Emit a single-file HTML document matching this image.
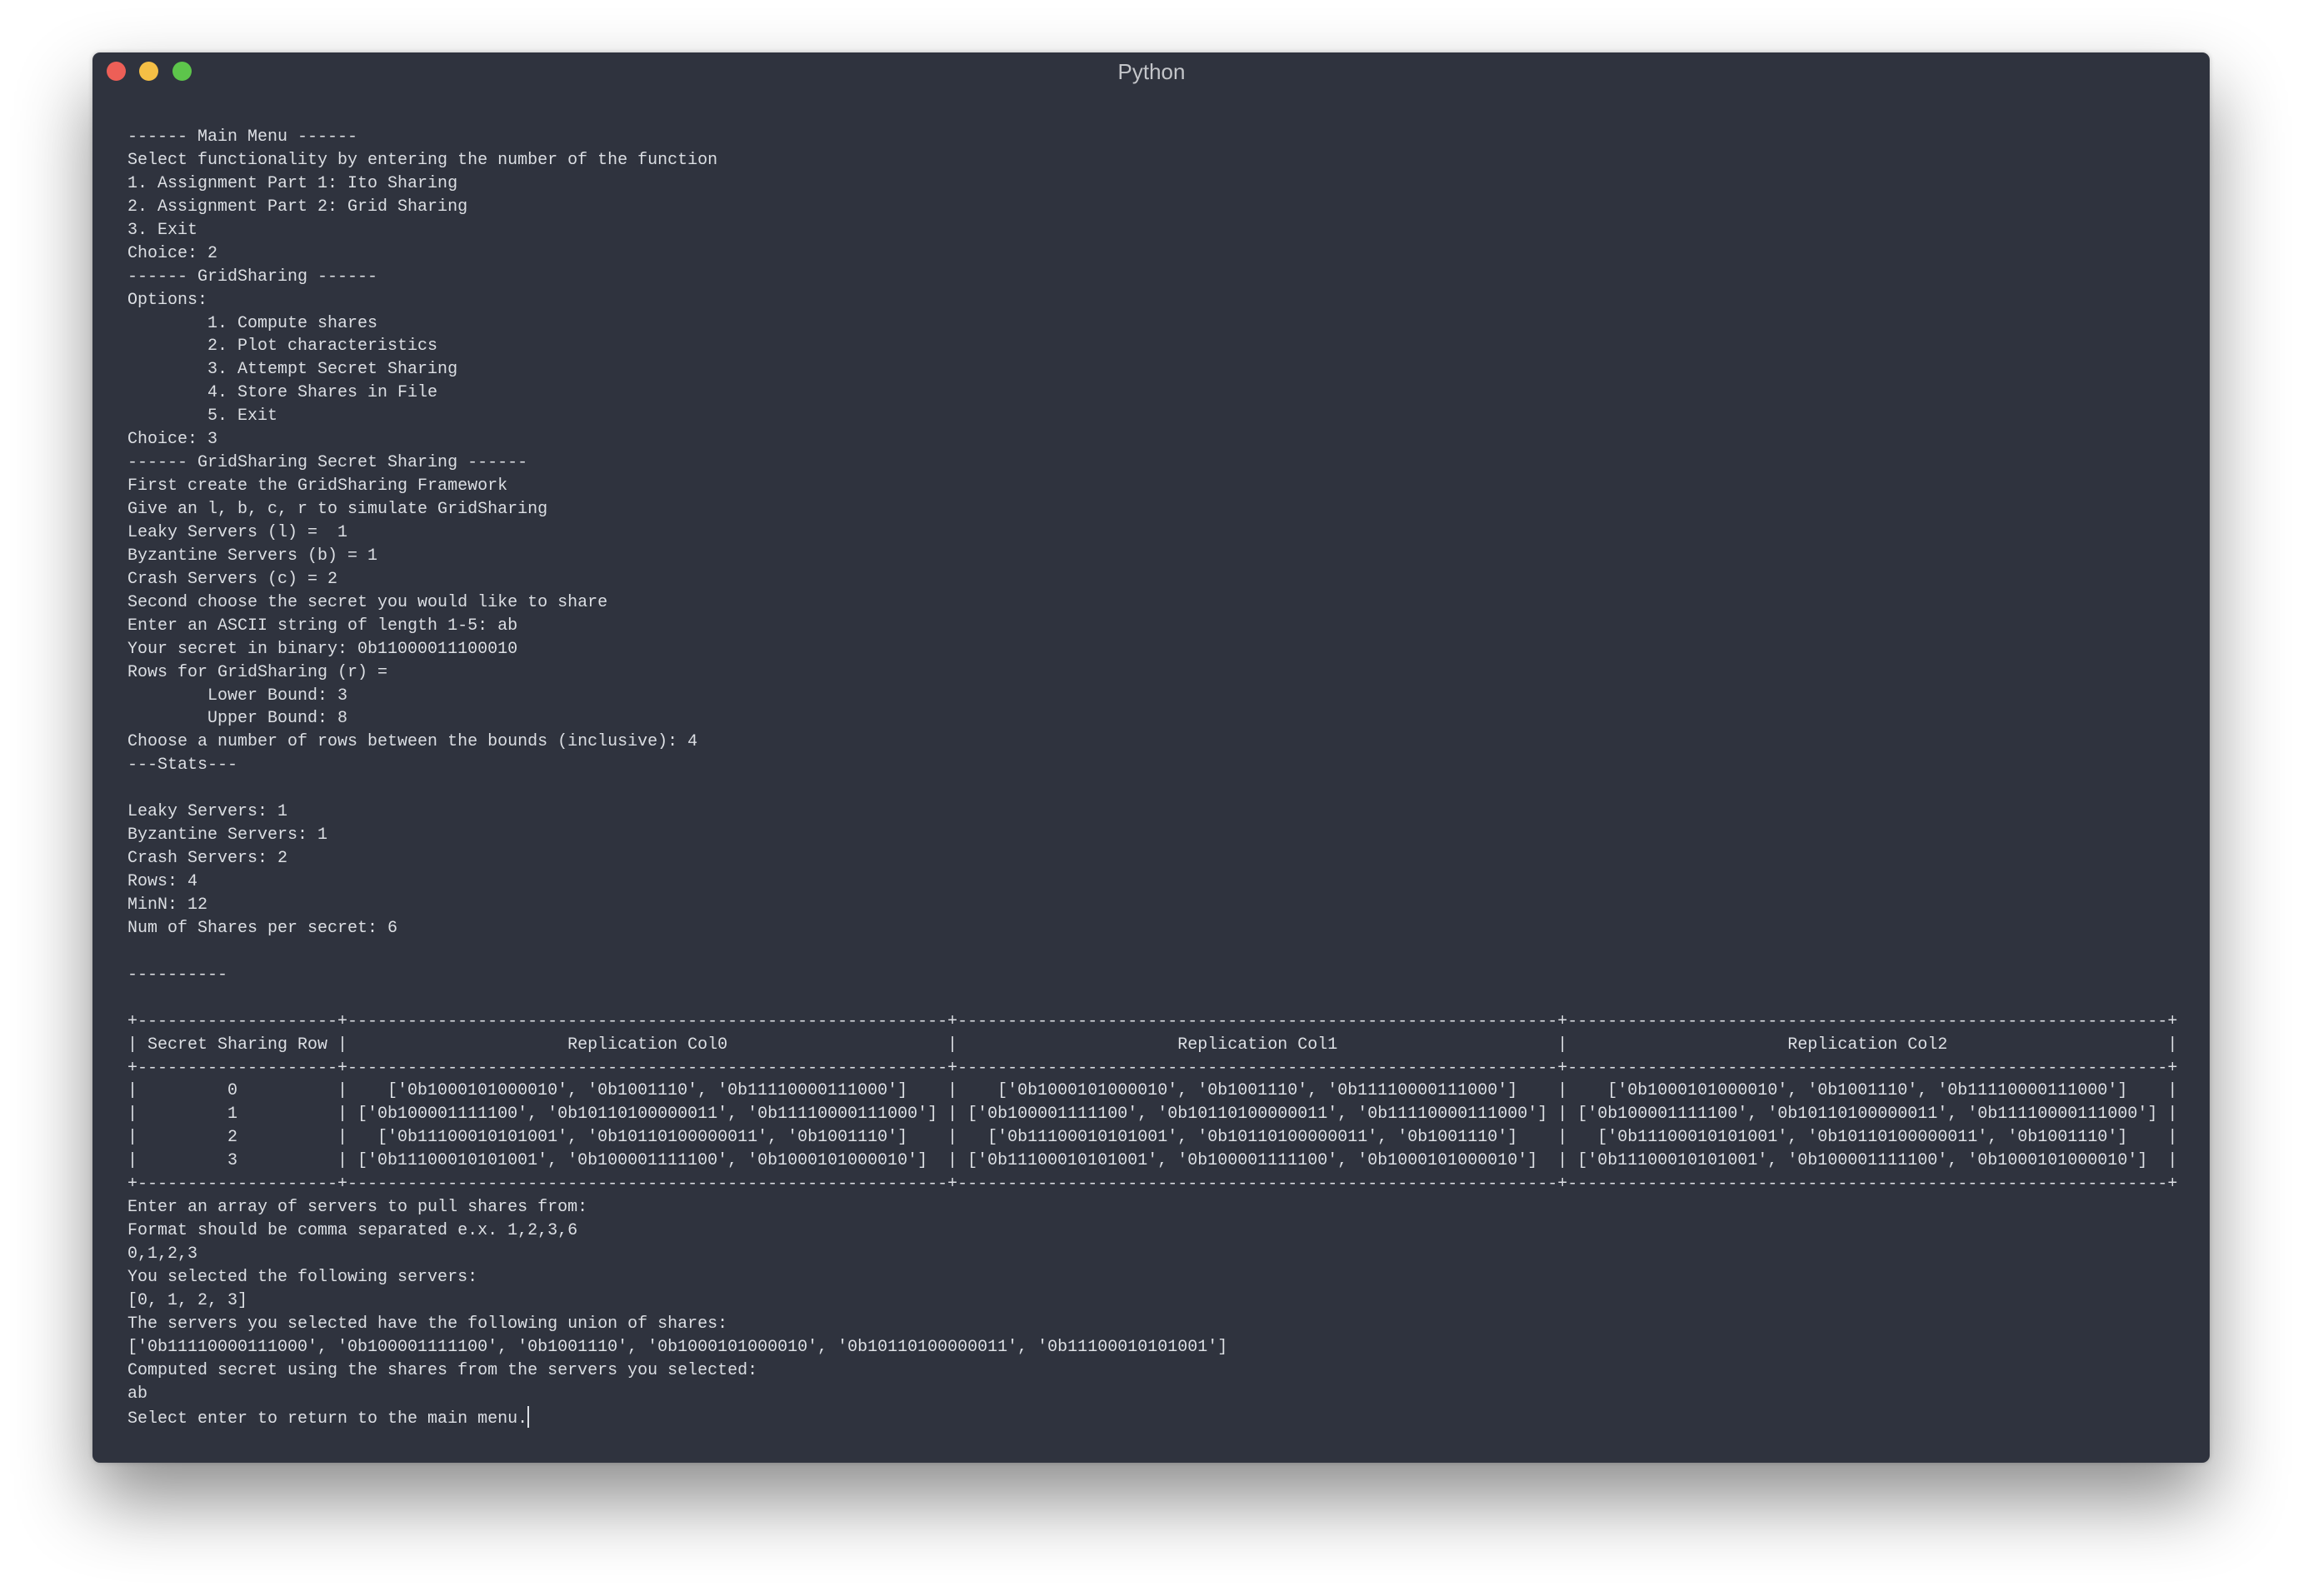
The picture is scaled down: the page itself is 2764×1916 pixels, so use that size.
<!DOCTYPE html>
<html><head><meta charset="utf-8"><style>
html,body{margin:0;padding:0;background:#fff;}
body{width:2764px;height:1916px;position:relative;overflow:hidden;}
.win{position:absolute;left:111px;top:63px;width:2541px;height:1693px;background:#2f333e;border-radius:9px;box-shadow:0 45px 90px rgba(0,0,0,0.45),0 0 6px rgba(0,0,0,0.2);}
.dot{position:absolute;top:74px;width:23px;height:23px;border-radius:50%;}
.title{position:absolute;left:0;width:2764px;top:71px;text-align:center;font:26px "Liberation Sans",sans-serif;color:#c3c5c9;}
pre{position:absolute;left:153px;top:151px;margin:0;font-family:"Liberation Mono",monospace;font-size:20px;line-height:27.94px;color:#dcdfe4;letter-spacing:0px;}
.cur{display:inline-block;width:2px;height:26px;background:#dcdfe4;vertical-align:-6px;}
</style></head><body>
<div class="win"></div>
<div class="dot" style="left:128px;background:#ed5f57"></div>
<div class="dot" style="left:167px;background:#f5bf45"></div>
<div class="dot" style="left:207px;background:#5dc54b"></div>
<div class="title">Python</div>
<pre>------ Main Menu ------
Select functionality by entering the number of the function
1. Assignment Part 1: Ito Sharing
2. Assignment Part 2: Grid Sharing
3. Exit
Choice: 2
------ GridSharing ------
Options:
        1. Compute shares
        2. Plot characteristics
        3. Attempt Secret Sharing
        4. Store Shares in File
        5. Exit
Choice: 3
------ GridSharing Secret Sharing ------
First create the GridSharing Framework
Give an l, b, c, r to simulate GridSharing
Leaky Servers (l) =  1
Byzantine Servers (b) = 1
Crash Servers (c) = 2
Second choose the secret you would like to share
Enter an ASCII string of length 1-5: ab
Your secret in binary: 0b11000011100010
Rows for GridSharing (r) =
        Lower Bound: 3
        Upper Bound: 8
Choose a number of rows between the bounds (inclusive): 4
---Stats---

Leaky Servers: 1
Byzantine Servers: 1
Crash Servers: 2
Rows: 4
MinN: 12
Num of Shares per secret: 6

----------

+--------------------+------------------------------------------------------------+------------------------------------------------------------+------------------------------------------------------------+
| Secret Sharing Row |                      Replication Col0                      |                      Replication Col1                      |                      Replication Col2                      |
+--------------------+------------------------------------------------------------+------------------------------------------------------------+------------------------------------------------------------+
|         0          |    ['0b1000101000010', '0b1001110', '0b11110000111000']    |    ['0b1000101000010', '0b1001110', '0b11110000111000']    |    ['0b1000101000010', '0b1001110', '0b11110000111000']    |
|         1          | ['0b100001111100', '0b10110100000011', '0b11110000111000'] | ['0b100001111100', '0b10110100000011', '0b11110000111000'] | ['0b100001111100', '0b10110100000011', '0b11110000111000'] |
|         2          |   ['0b11100010101001', '0b10110100000011', '0b1001110']    |   ['0b11100010101001', '0b10110100000011', '0b1001110']    |   ['0b11100010101001', '0b10110100000011', '0b1001110']    |
|         3          | ['0b11100010101001', '0b100001111100', '0b1000101000010']  | ['0b11100010101001', '0b100001111100', '0b1000101000010']  | ['0b11100010101001', '0b100001111100', '0b1000101000010']  |
+--------------------+------------------------------------------------------------+------------------------------------------------------------+------------------------------------------------------------+
Enter an array of servers to pull shares from:
Format should be comma separated e.x. 1,2,3,6
0,1,2,3
You selected the following servers:
[0, 1, 2, 3]
The servers you selected have the following union of shares:
['0b11110000111000', '0b100001111100', '0b1001110', '0b1000101000010', '0b10110100000011', '0b11100010101001']
Computed secret using the shares from the servers you selected:
ab
Select enter to return to the main menu.<span class="cur"></span></pre>
</body></html>
